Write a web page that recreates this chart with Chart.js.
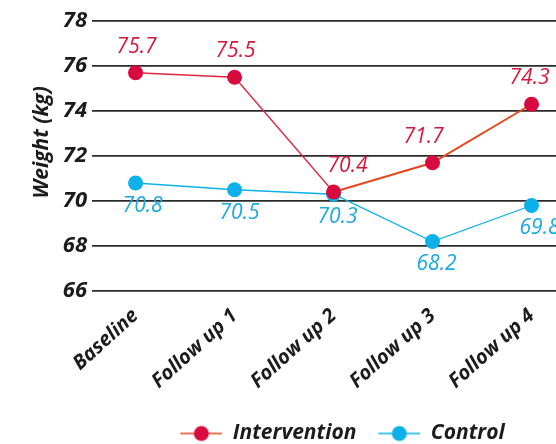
<!DOCTYPE html>
<html>
<head>
<meta charset="utf-8">
<script src="https://cdn.jsdelivr.net/npm/chart.js@4/dist/chart.umd.min.js"></script>
<style>
  html, body { margin: 0; padding: 0; background: #ffffff; overflow: hidden; }
  #wrap { width: 590px; height: 456px; }
</style>
</head>
<body>
<div id="wrap"><canvas id="c" width="590" height="456"></canvas></div>
<script>
// Visits and mean body weight (kg) per group
const visits = ['Baseline', 'Follow up 1', 'Follow up 2', 'Follow up 3', 'Follow up 4'];
const intervention = [75.7, 75.5, 70.4, 71.7, 74.3];
const control = [70.8, 70.5, 70.3, 68.2, 69.8];
const weightTicks = [66, 68, 70, 72, 74, 76, 78];

const FONT = '"Open Sans", "DejaVu Sans", sans-serif';
const RED = '#d90a3e';
const RED_LINE = '#e4302e';
const CYAN = '#0db1ea';
const CYAN_TEXT = '#19a9e1';
const INK = '#1c1c1c';

// legend swatch: short line with a dot in the middle (left part kept blank as spacing)
function legendIcon(lineColor, dotColor) {
  const c = document.createElement('canvas');
  c.width = 54; c.height = 18;
  const g = c.getContext('2d');
  g.strokeStyle = lineColor;
  g.lineWidth = 1.5;
  g.beginPath(); g.moveTo(12, 9); g.lineTo(54, 9); g.stroke();
  g.fillStyle = dotColor;
  g.beginPath(); g.arc(33, 9, 7.5, 0, Math.PI * 2); g.fill();
  return c;
}

const toPoints = arr => arr.map((v, i) => ({ x: i, y: v }));

// value labels next to each point
const valueLabels = {
  id: 'valueLabels',
  afterDatasetsDraw(chart) {
    const ctx = chart.ctx;
    chart.data.datasets.forEach((ds, di) => {
      const meta = chart.getDatasetMeta(di);
      const st = ds.labelStyle;
      ctx.save();
      ctx.font = 'italic 500 21px ' + FONT;
      ctx.fillStyle = st.color;
      ctx.textAlign = 'center';
      ctx.textBaseline = 'middle';
      meta.data.forEach((pt, i) => {
        ctx.fillText(ds.data[i].y.toFixed(1), pt.x + st.dx[i], pt.y + st.dy);
      });
      ctx.restore();
    });
  }
};

new Chart(document.getElementById('c'), {
  type: 'line',
  data: {
    datasets: [
      {
        label: 'Intervention',
        data: toPoints(intervention),
        borderColor: RED_LINE,
        borderWidth: 1.5,
        segment: {
          borderColor: s => s.p0DataIndex >= 2 ? '#e8461f' : '#de2640',
          borderWidth: s => s.p0DataIndex >= 2 ? 2 : 1.3
        },
        pointBackgroundColor: RED,
        pointBorderColor: RED,
        pointRadius: 7.5,
        pointBorderWidth: 0,
        tension: 0,
        labelStyle: { color: '#d4163c', dx: [1, 1, 14, -9, -2], dy: -26 },
        legendIcon: legendIcon('#e8461f', RED)
      },
      {
        label: 'Control',
        data: toPoints(control),
        borderColor: CYAN,
        borderWidth: 1.3,
        pointBackgroundColor: CYAN,
        pointBorderColor: CYAN,
        pointRadius: 7.5,
        pointBorderWidth: 0,
        tension: 0,
        labelStyle: { color: CYAN_TEXT, dx: [7, 5, 4, 4, 8], dy: 23 },
        legendIcon: legendIcon(CYAN, CYAN)
      }
    ]
  },
  options: {
    responsive: false,
    animation: false,
    devicePixelRatio: 1,
    layout: { padding: { top: 21, left: 0, right: 9, bottom: 2 } },
    scales: {
      x: {
        type: 'linear',
        min: -0.44,
        max: 4.5,
        grid: { display: false },
        border: { display: false },
        afterBuildTicks: scale => { scale.ticks = visits.map((_, i) => ({ value: i })); },
        afterFit: scale => { scale.height = 122; },
        ticks: {
          autoSkip: false,
          minRotation: 42,
          maxRotation: 42,
          padding: 5,
          color: INK,
          font: { family: FONT, size: 20, weight: 'bold', style: 'italic' },
          callback: v => visits[v]
        }
      },
      y: {
        min: 66,
        max: 78,
        afterBuildTicks: scale => { scale.ticks = weightTicks.map(v => ({ value: v })); },
        afterFit: scale => { scale.width = 92; },
        grid: { color: '#2b2b2b', lineWidth: 1.7, drawTicks: false },
        border: { display: false },
        ticks: {
          padding: 5,
          color: INK,
          font: { family: FONT, size: 22, weight: 'bold', style: 'italic' }
        },
        title: {
          display: true,
          text: '     Weight (kg)',
          color: INK,
          padding: { top: 29, bottom: 0 },
          font: { family: FONT, size: 21, weight: 'bold', style: 'italic' }
        }
      }
    },
    plugins: {
      tooltip: { enabled: false },
      legend: {
        position: 'bottom',
        fullSize: false,
        labels: {
          usePointStyle: true,
          pointStyleWidth: 54,
          boxHeight: 18,
          padding: 10,
          color: INK,
          font: { family: FONT, size: 21, weight: 'bold', style: 'italic' },
          generateLabels: chart => chart.data.datasets.map((ds, i) => ({
            text: ds.label,
            pointStyle: ds.legendIcon,
            fillStyle: 'rgba(0,0,0,0)',
            strokeStyle: 'rgba(0,0,0,0)',
            lineWidth: 0,
            fontColor: INK,
            hidden: false,
            datasetIndex: i
          }))
        }
      }
    }
  },
  plugins: [valueLabels]
});
</script>
</body>
</html>
